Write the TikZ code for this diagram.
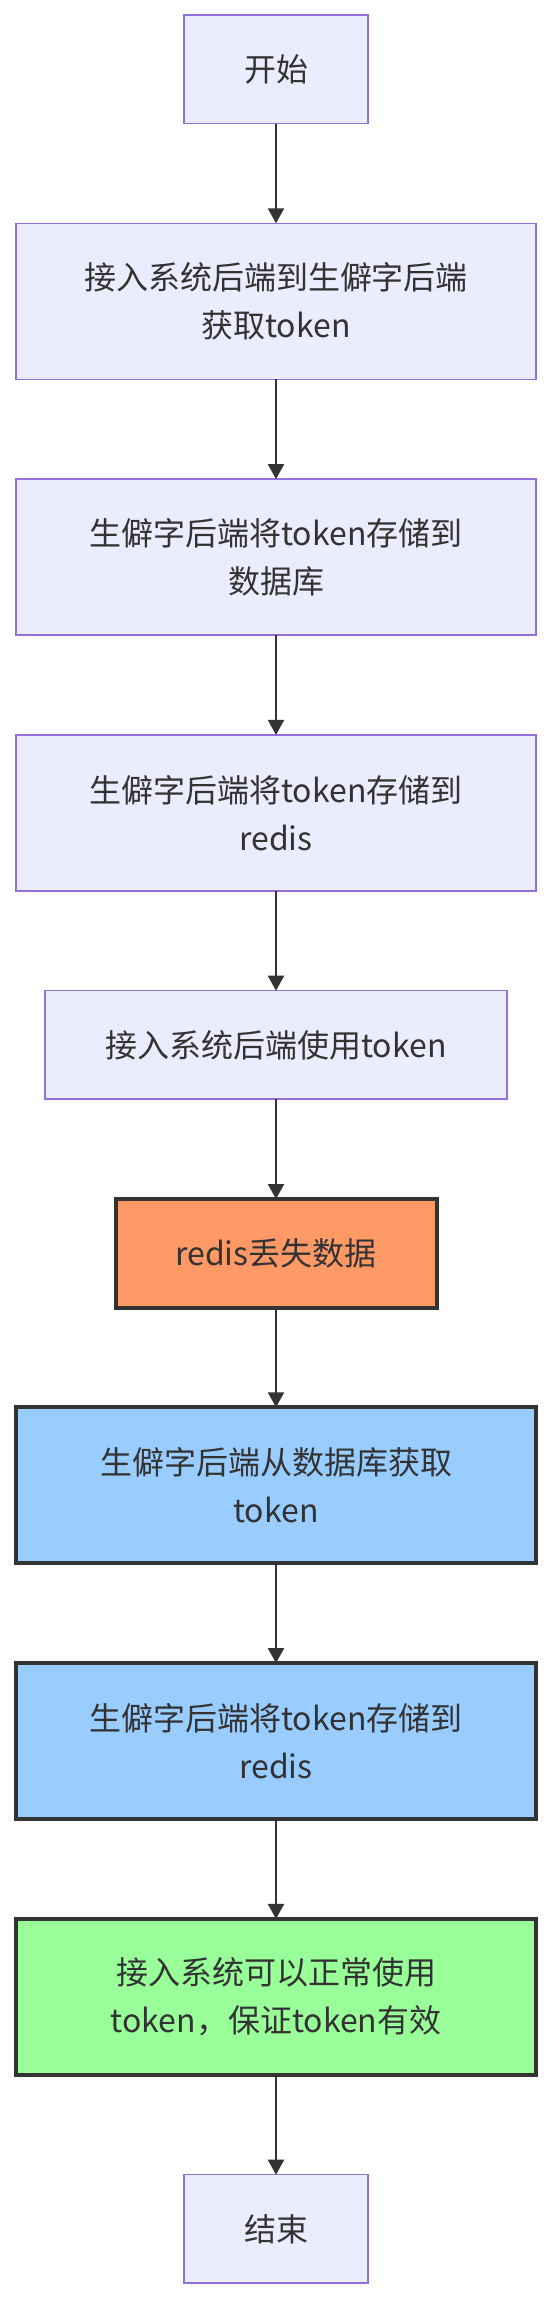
\documentclass[tikz,border=0pt]{standalone}
\usepackage{fontspec}
\setmainfont{Noto Sans CJK SC}
\usetikzlibrary{arrows.meta}
\definecolor{nfill}{HTML}{ECECFF}
\definecolor{nstroke}{HTML}{9370DB}
\definecolor{dark}{HTML}{333333}
\definecolor{orangefill}{HTML}{FF9966}
\definecolor{bluefill}{HTML}{99CCFF}
\definecolor{greenfill}{HTML}{99FF99}
\tikzset{
  box/.style={rectangle, draw=nstroke, fill=nfill, line width=1.5pt, inner sep=0pt, outer sep=0pt,
    text=dark, align=center, font=\fontsize{32pt}{48pt}\selectfont},
  thickbox/.style={box, draw=dark, line width=4pt},
  single/.style={minimum height=108.5pt},
  double/.style={minimum height=156pt},
  wide/.style={minimum width=520pt},
  flow/.style={draw=dark, line width=2pt, -{Triangle[width=16pt,length=15pt]}}
}
\begin{document}
\begin{tikzpicture}[x=1pt,y=-1pt]
\useasboundingbox[fill=white] (0,0) rectangle (552,2300);
\node[box, single, minimum width=184pt] (start) at (276,69.25) {开始};
\node[box, double, wide] (b2) at (276,301.3) {接入系统后端到生僻字后端\\获取token};
\node[box, double, wide] (b3) at (276,557.1) {生僻字后端将token存储到\\数据库};
\node[box, double, wide] (b4) at (276,812.9) {生僻字后端将token存储到\\redis};
\node[box, single, minimum width=462pt] (b5) at (276,1044.95) {接入系统后端使用token};
\node[thickbox, single, fill=orangefill, minimum width=321pt] (b6) at (276,1253.25) {redis丢失数据};
\node[thickbox, double, wide, fill=bluefill] (b7) at (276,1485.3) {生僻字后端从数据库获取\\token};
\node[thickbox, double, wide, fill=bluefill] (b8) at (276,1741.1) {生僻字后端将token存储到\\redis};
\node[thickbox, double, wide, fill=greenfill] (b9) at (276,1996.9) {接入系统可以正常使用\\token，保证token有效};
\node[box, single, minimum width=184pt] (end) at (276,2228.95) {结束};
\draw[flow] (start) -- (b2);
\draw[flow] (b2) -- (b3);
\draw[flow] (b3) -- (b4);
\draw[flow] (b4) -- (b5);
\draw[flow] (b5) -- (b6);
\draw[flow] (b6) -- (b7);
\draw[flow] (b7) -- (b8);
\draw[flow] (b8) -- (b9);
\draw[flow] (b9) -- (end);
\end{tikzpicture}
\end{document}
